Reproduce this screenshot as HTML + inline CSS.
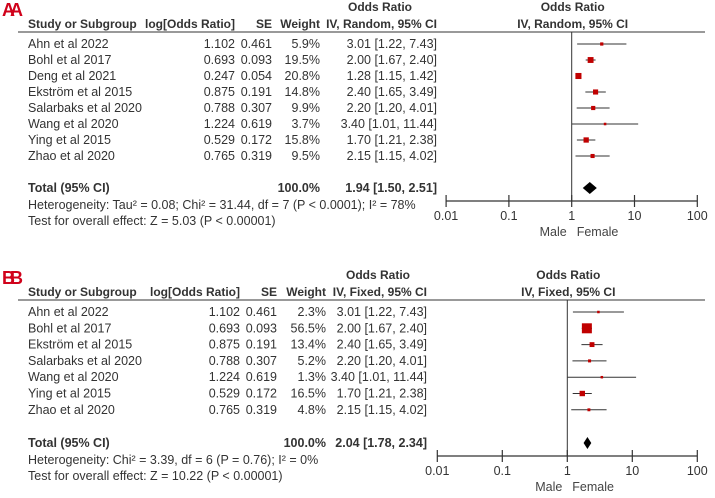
<!DOCTYPE html>
<html><head><meta charset="utf-8">
<style>
body{margin:0;background:#fff;}
svg{display:block;font-family:"Liberation Sans",Arial,sans-serif;}
</style></head>
<body>
<svg id="chart" width="715" height="498" viewBox="0 0 715 498"></svg>
<script>
// Panel A data (random effects)
const studiesA = ["Ahn et al 2022","Bohl et al 2017","Deng et al 2021","Ekström et al 2015","Salarbaks et al 2020","Wang et al 2020","Ying et al 2015","Zhao et al 2020"];
const logOrA = ["1.102","0.693","0.247","0.875","0.788","1.224","0.529","0.765"];
const seA = ["0.461","0.093","0.054","0.191","0.307","0.619","0.172","0.319"];
const weightA = [5.9,19.5,20.8,14.8,9.9,3.7,15.8,9.5];
const orA = [3.01,2.00,1.28,2.40,2.20,3.40,1.70,2.15];
const lowA = [1.22,1.67,1.15,1.65,1.20,1.01,1.21,1.15];
const highA = [7.43,2.40,1.42,3.49,4.01,11.44,2.38,4.02];
const totalA = [1.94,1.50,2.51];
// Panel B data (fixed effects)
const studiesB = ["Ahn et al 2022","Bohl et al 2017","Ekström et al 2015","Salarbaks et al 2020","Wang et al 2020","Ying et al 2015","Zhao et al 2020"];
const logOrB = ["1.102","0.693","0.875","0.788","1.224","0.529","0.765"];
const seB = ["0.461","0.093","0.191","0.307","0.619","0.172","0.319"];
const weightB = [2.3,56.5,13.4,5.2,1.3,16.5,4.8];
const orB = [3.01,2.00,2.40,2.20,3.40,1.70,2.15];
const lowB = [1.22,1.67,1.65,1.20,1.01,1.21,1.15];
const highB = [7.43,2.40,3.49,4.01,11.44,2.38,4.02];
const totalB = [2.04,1.78,2.34];
const axisTicks = [0.01,0.1,1,10,100];
const axisTickLabels = ["0.01","0.1","1","10","100"];

const svg = document.getElementById('chart');
const NS = "http://www.w3.org/2000/svg";
function mk(tag, attrs, text){
  const e = document.createElementNS(NS, tag);
  for (const k in attrs) e.setAttribute(k, attrs[k]);
  if (text !== undefined) e.textContent = text;
  svg.appendChild(e);
  return e;
}
function fmt(v){return v.toFixed(2);}

function panel(cfg){
  const p = cfg.prefix;
  let t;
  t = mk('text',{x:2,y:cfg.top+16,'font-size':18,'font-weight':'bold',fill:'#d0021b','letter-spacing':'-5'},cfg.label);
  
  
  t = mk('text',{x:cfg.cHead,y:cfg.top+11,'font-size':12,'font-weight':'bold','text-anchor':'middle',fill:'#333'},'Odds Ratio');
  
  
  t = mk('text',{x:cfg.one+1,y:cfg.top+11,'font-size':12,'font-weight':'bold','text-anchor':'middle',fill:'#333'},'Odds Ratio');
  
  
  const hy = cfg.top+28;
  const heads = [[28,'start','Study or Subgroup'],[cfg.cLog,'end','log[Odds Ratio]'],[cfg.cSe,'end','SE'],[cfg.cW,'end','Weight'],[cfg.cCi,'end',cfg.method+', 95% CI'],[cfg.one+1,'middle',cfg.method+', 95% CI']];
  heads.forEach((h,i)=>{
    const e = mk('text',{x:h[0],y:hy,'font-size':12,'font-weight':'bold','text-anchor':h[1],fill:'#333'},h[2]);
    
    
  });
  const line = mk('line',{x1:18,x2:705,y1:cfg.top+32,y2:cfg.top+32,stroke:'#333','stroke-width':1});
  
  

  const xs = v => cfg.one + Math.log10(v)*cfg.dec;
  const rowY = i => cfg.top + 44 + i*cfg.rowH;
  cfg.studies.forEach((s,i)=>{
    const y = rowY(i);
    const cols = [[28,'start',s],[cfg.cLog,'end',cfg.logOr[i]],[cfg.cSe,'end',cfg.se[i]],[cfg.cW,'end',cfg.w[i].toFixed(1)+'%'],[cfg.cCi,'end',fmt(cfg.or[i])+' ['+fmt(cfg.lo[i])+', '+fmt(cfg.hi[i])+']']];
    cols.forEach(c=>{
      const e = mk('text',{x:c[0],y:y+4,'font-size':12.5,'text-anchor':c[1],fill:'#333'},c[2]);
      
      
    });
    const ci = mk('line',{x1:xs(cfg.lo[i]),x2:xs(cfg.hi[i]),y1:y,y2:y,stroke:'#333','stroke-width':1});
    
    
    const sz = Math.max(2.5, 1.33*Math.sqrt(cfg.w[i]));
    const b = mk('rect',{x:xs(cfg.or[i])-sz/2,y:y-sz/2,width:sz,height:sz,fill:'#c00000'});
    
    
  });
  const v1 = mk('line',{x1:cfg.one,x2:cfg.one,y1:cfg.top+32,y2:cfg.axisY,stroke:'#333','stroke-width':1});
  
  
  const ty = cfg.totalY;
  const tcols = [[28,'start','Total (95% CI)'],[cfg.cW,'end','100.0%'],[cfg.cCi,'end',fmt(cfg.tot[0])+' ['+fmt(cfg.tot[1])+', '+fmt(cfg.tot[2])+']']];
  tcols.forEach(c=>{
    const e = mk('text',{x:c[0],y:ty+4,'font-size':12.5,'font-weight':'bold','text-anchor':c[1],fill:'#333'},c[2]);
    
    
  });
  const xc = xs(cfg.tot[0]), xl = xs(cfg.tot[1]), xh = xs(cfg.tot[2]);
  const d = mk('polygon',{points:`${xl},${ty} ${xc},${ty-6} ${xh},${ty} ${xc},${ty+6}`,fill:'#000'});
  
  
  cfg.notes.forEach((n,i)=>{
    const e = mk('text',{x:28,y:ty+21+i*16,'font-size':12.5,fill:'#333'},n);
    
    
  });
  const ax = mk('line',{x1:xs(axisTicks[0]),x2:xs(axisTicks[axisTicks.length-1]),y1:cfg.axisY,y2:cfg.axisY,stroke:'#333','stroke-width':1.2});
  
  
  axisTicks.forEach((tk,i)=>{
    const tl = mk('line',{x1:xs(tk),x2:xs(tk),y1:cfg.axisY-6,y2:cfg.axisY+6,stroke:'#333','stroke-width':1.2});
    
    
    const lb = mk('text',{x:xs(tk),y:cfg.axisY+19,'font-size':12.5,'text-anchor':'middle',fill:'#333'},axisTickLabels[i]);
    
    
  });
  const m = mk('text',{x:cfg.one-5,y:cfg.axisY+35,'font-size':12.5,'text-anchor':'end',fill:'#444'},'Male');
  
  
  const f = mk('text',{x:cfg.one+5,y:cfg.axisY+35,'font-size':12.5,'text-anchor':'start',fill:'#444'},'Female');
  
  
}

panel({prefix:'panel-a',label:'AA',top:0,method:'IV, Random',cHead:380,cLog:235,cSe:272,cW:320,cCi:437,
  one:571.7,dec:62.8,rowH:16,axisY:201,totalY:188,
  studies:studiesA,logOr:logOrA,se:seA,w:weightA,or:orA,lo:lowA,hi:highA,tot:totalA,
  notes:["Heterogeneity: Tau\u00b2 = 0.08; Chi\u00b2 = 31.44, df = 7 (P < 0.0001); I\u00b2 = 78%","Test for overall effect: Z = 5.03 (P < 0.00001)"]});
panel({prefix:'panel-b',label:'BB',top:268,method:'IV, Fixed',cHead:378,cLog:240,cSe:277,cW:326,cCi:427,
  one:567.3,dec:65,rowH:16.3,axisY:456,totalY:443,
  studies:studiesB,logOr:logOrB,se:seB,w:weightB,or:orB,lo:lowB,hi:highB,tot:totalB,
  notes:["Heterogeneity: Chi\u00b2 = 3.39, df = 6 (P = 0.76); I\u00b2 = 0%","Test for overall effect: Z = 10.22 (P < 0.00001)"]});
</script>
</body></html>
